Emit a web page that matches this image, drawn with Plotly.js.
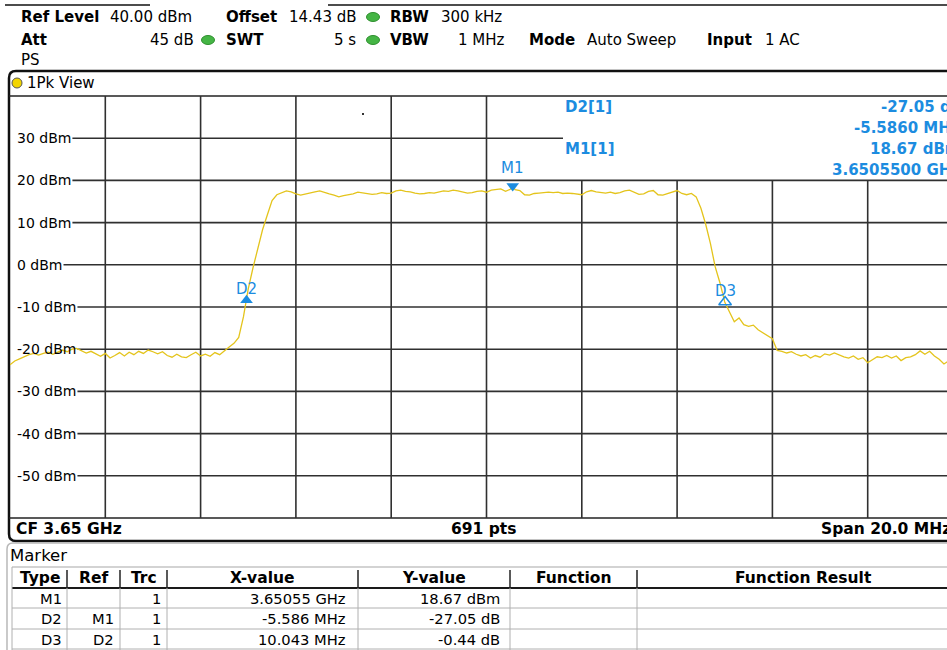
<!DOCTYPE html>
<html><head><meta charset="utf-8">
<script src="https://cdn.plot.ly/plotly-3.0.1.min.js"></script>
<style>html,body{margin:0;padding:0;overflow:hidden;background:#fff;width:947px;height:650px}#chart{width:970px;height:650px}</style>
</head><body><div id="chart"></div><script>
// ---- data ----
const freqMHz = [3640.0,3640.1,3640.2,3640.3,3640.4,3640.5,3640.6,3640.7,3640.8,3640.9,
3641.0,3641.1,3641.2,3641.3,3641.4,3641.5,3641.6,3641.7,3641.8,3641.9,
3642.0,3642.1,3642.2,3642.3,3642.4,3642.5,3642.6,3642.7,3642.8,3642.9,
3643.0,3643.1,3643.2,3643.3,3643.4,3643.5,3643.6,3643.7,3643.8,3643.9,
3644.0,3644.1,3644.2,3644.3,3644.4,3644.5,3644.6,3644.7,3644.8,3644.9,
3645.0,3645.1,3645.2,3645.3,3645.4,3645.5,3645.6,3645.7,3645.8,3645.9,
3646.0,3646.1,3646.2,3646.3,3646.4,3646.5,3646.6,3646.7,3646.8,3646.9,
3647.0,3647.1,3647.2,3647.3,3647.4,3647.5,3647.6,3647.7,3647.8,3647.9,
3648.0,3648.1,3648.2,3648.3,3648.4,3648.5,3648.6,3648.7,3648.8,3648.9,
3649.0,3649.1,3649.2,3649.3,3649.4,3649.5,3649.6,3649.7,3649.8,3649.9,
3650.0,3650.1,3650.2,3650.3,3650.4,3650.5,3650.55,3650.6,3650.7,3650.8,3650.9,
3651.0,3651.1,3651.2,3651.3,3651.4,3651.5,3651.6,3651.7,3651.8,3651.9,
3652.0,3652.1,3652.2,3652.3,3652.4,3652.5,3652.6,3652.7,3652.8,3652.9,
3653.0,3653.1,3653.2,3653.3,3653.4,3653.5,3653.6,3653.7,3653.8,3653.9,
3654.0,3654.1,3654.2,3654.3,3654.4,3654.5,3654.6,3654.7,3654.8,3654.9,
3655.0,3655.1,3655.2,3655.3,3655.4,3655.5,3655.6,3655.7,3655.8,3655.9,
3656.0,3656.1,3656.2,3656.3,3656.4,3656.5,3656.6,3656.7,3656.8,3656.9,
3657.0,3657.1,3657.2,3657.3,3657.4,3657.5,3657.6,3657.7,3657.8,3657.9,
3658.0,3658.1,3658.2,3658.3,3658.4,3658.5,3658.6,3658.7,3658.8,3658.9,
3659.0,3659.1,3659.2,3659.3,3659.4,3659.5,3659.6,3659.7,3659.8,3659.9,3660.0];
const levelDbm = [-23.7,-22.8,-22.3,-21.8,-21.3,-21.0,-21.4,-21.0,-20.7,-21.2,
-20.6,-20.2,-20.6,-20.0,-19.8,-20.3,-20.9,-20.5,-21.2,-21.7,
-21.0,-22.1,-21.5,-20.8,-21.6,-20.7,-21.3,-20.5,-21.0,-20.2,
-20.6,-21.1,-20.6,-21.5,-21.9,-21.2,-21.8,-22.0,-21.3,-20.7,
-21.6,-21.2,-21.7,-20.8,-21.3,-20.5,-19.5,-18.6,-17.2,-12.3,
-5.7,-0.7,4.0,8.3,11.8,15.2,16.6,17.1,17.5,17.3,
16.8,16.5,16.8,17.0,17.3,17.5,17.1,16.8,16.5,16.1,
16.4,16.6,16.8,17.2,17.0,16.9,16.7,16.8,17.1,16.9,
17.0,17.5,17.7,17.4,17.3,17.0,16.8,16.9,17.1,17.0,
17.3,17.5,17.4,17.7,17.5,17.2,17.0,17.1,17.4,17.5,
17.2,17.7,17.9,18.0,17.4,17.9,18.67,17.8,17.6,16.6,16.5,
16.9,17.0,17.1,17.2,17.1,17.2,16.9,17.0,16.9,16.8,
16.6,17.3,17.6,17.3,17.2,17.0,17.2,16.9,17.1,17.5,
17.7,17.2,16.7,16.8,17.4,17.6,16.6,16.5,16.9,17.2,
17.6,16.9,16.6,16.9,16.1,13.4,9.6,5.0,-0.5,-4.3,
-8.8,-11.2,-13.5,-12.6,-14.2,-14.6,-14.3,-15.4,-16.1,-16.6,
-17.5,-20.3,-20.5,-20.9,-20.6,-21.2,-21.6,-21.3,-22.1,-21.5,
-21.9,-21.1,-21.4,-20.9,-21.4,-21.8,-22.1,-21.6,-22.4,-22.0,
-23.2,-22.4,-21.8,-22.0,-21.5,-22.1,-21.6,-22.7,-22.0,-21.8,
-21.3,-20.4,-21.2,-20.5,-21.6,-22.4,-23.5,-22.8,-22.3,-22.6,-22.1];
const markerNames = ['M1','D2','D3'];
const markerFreqMHz = [3650.55, 3644.964, 3655.007];
const markerLevelDbm = [18.67, -8.38, -8.82];
const markerSymbols = ['triangle-down','triangle-up','triangle-up-open'];
const yTickValues = [30,20,10,0,-10,-20,-30,-40,-50];
const yTickLabels = ['30 dBm','20 dBm','10 dBm','0 dBm','-10 dBm','-20 dBm','-30 dBm','-40 dBm','-50 dBm'];
const xGridMHz = [3642,3644,3646,3648,3650,3652,3654,3656,3658];
const tableHeader = ['Type','Ref','Trc','X-value','Y-value','Function','Function Result'];
const tableRows = [
  ['M1','','1','3.65055 GHz','18.67 dBm','',''],
  ['D2','M1','1','-5.586 MHz','-27.05 dB','',''],
  ['D3','D2','1','10.043 MHz','-0.44 dB','','']
];

// ---- layout helpers (pixel -> paper) ----
const W = 970, H = 650;
const X = p => p / W, Y = p => 1 - p / H;
const F = 'DejaVu Sans, Verdana, sans-serif';
const BLUE = '#1c8ce0';
const ann = [];
function T(text, x, y, o) {
  o = o || {};
  ann.push({text: text, x: X(x), y: Y(y), xref: 'paper', yref: 'paper', showarrow: false, borderpad: 0, borderwidth: 0,
    xanchor: o.a || 'left', yanchor: 'middle', font: {family: F, size: o.s || 15, color: o.c || '#000'}});
}
const shapes = [];
function L(x0, y0, x1, y1, c, w) {
  shapes.push({type: 'line', xref: 'paper', yref: 'paper', x0: X(x0), y0: Y(y0), x1: X(x1), y1: Y(y1),
    line: {color: c, width: w}, layer: 'below'});
}
function P(cmds, c, w) {
  const s = cmds.map(cm => {
    let out = cm[0];
    for (let i = 1; i < cm.length; i += 2) out += (i > 1 ? ' ' : '') + X(cm[i]).toFixed(6) + ',' + Y(cm[i + 1]).toFixed(6);
    return out;
  }).join(' ');
  shapes.push({type: 'path', xref: 'paper', yref: 'paper', path: s, line: {color: c, width: w}, fillcolor: 'rgba(0,0,0,0)', layer: 'below'});
}
function DOT(cx, cy, rx, ry, fill, line) {
  shapes.push({type: 'circle', xref: 'paper', yref: 'paper', x0: X(cx - rx), x1: X(cx + rx), y0: Y(cy + ry), y1: Y(cy - ry),
    fillcolor: fill, line: {color: line, width: 1}, layer: 'above'});
}
// measure text width with an SVG text element (same engine as Plotly)
const NS = 'http://www.w3.org/2000/svg';
const msvg = document.createElementNS(NS, 'svg');
msvg.setAttribute('style', 'position:absolute;left:-2000px;top:0');
document.body.appendChild(msvg);
function textWidth(s, size) {
  const t = document.createElementNS(NS, 'text');
  t.setAttribute('style', 'font-family:' + F + ';font-size:' + size + 'px');
  t.textContent = s;
  msvg.appendChild(t);
  const w = t.getComputedTextLength();
  msvg.removeChild(t);
  return w;
}

// header
L(5, 5, 150, 5, '#111', 1.5);
L(328, 5, 970, 5, '#111', 1.5);
T('<b>Ref Level</b>', 21, 17); T('40.00 dBm', 110, 17);
T('<b>Offset</b>', 226, 17); T('14.43 dB', 289, 17);
DOT(373, 17, 6.5, 4.5, '#45b545', '#2f8f2f');
T('<b>RBW</b>', 390, 17); T('300 kHz', 441, 17);
T('<b>Att</b>', 21, 40); T('45 dB', 194, 40, {a: 'right'});
DOT(208, 40, 6.5, 4.5, '#45b545', '#2f8f2f');
T('<b>SWT</b>', 226, 40); T('5 s', 356, 40, {a: 'right'});
DOT(373, 40, 6.5, 4.5, '#45b545', '#2f8f2f');
T('<b>VBW</b>', 390, 40); T('1 MHz', 505, 40, {a: 'right'});
T('<b>Mode</b>', 529, 40); T('Auto Sweep', 587, 40);
T('<b>Input</b>', 707, 40); T('1 AC', 765, 40);
T('PS', 21, 60);

// diagram frame
P([['M', 970, 71], ['L', 16, 71], ['Q', 9, 71, 9, 78], ['L', 9, 534], ['Q', 9, 541, 16, 541], ['L', 970, 541]], '#111', 2.5);
L(9, 96, 970, 96, '#222', 1.6);
L(9, 518, 970, 518, '#222', 1.6);
DOT(17, 83, 5, 5, '#f2d500', '#555');
T('1Pk View', 27, 83);
T('<b>CF 3.65 GHz</b>', 16, 529, {s: 15.5});
T('<b>691 pts</b>', 483, 529, {a: 'center', s: 15.5});
T('<b>Span 20.0 MHz</b>', 951, 529, {a: 'right', s: 15.5});
shapes.push({type: 'rect', xref: 'paper', yref: 'paper', x0: X(362), x1: X(364), y0: Y(115), y1: Y(113), fillcolor: '#333', line: {width: 0}, layer: 'below'});

// marker readout (top right)
T('<b>D2[1]</b>', 565, 107, {c: BLUE});
T('<b>M1[1]</b>', 565, 149, {c: BLUE});
T('<b>-27.05 dB</b>', 962, 107, {c: BLUE, a: 'right'});
T('<b>-5.5860 MHz</b>', 960, 128, {c: BLUE, a: 'right'});
T('<b>18.67 dBm</b>', 960, 149, {c: BLUE, a: 'right'});
T('<b>3.6505500 GHz</b>', 960, 170, {c: BLUE, a: 'right'});

// grid: vertical lines
const GRID = '#303030';
xGridMHz.forEach(f => {
  shapes.push({type: 'line', xref: 'x', yref: 'y', x0: f, x1: f, y0: -60, y1: f > 3651 ? 20 : 40,
    line: {color: GRID, width: 1.6}, layer: 'below'});
});
// grid: horizontal lines starting after the label
yTickValues.forEach((v, i) => {
  const w = textWidth(yTickLabels[i], 14);
  shapes.push({type: 'line', xref: 'paper', yref: 'y', x0: X(17 + w + 1), x1: X(v === 30 ? 563 : 970), y0: v, y1: v,
    line: {color: GRID, width: 1.6}, layer: 'below'});
  ann.push({text: yTickLabels[i], x: X(17), y: v, xref: 'paper', yref: 'y', showarrow: false, borderpad: 0, borderwidth: 0,
    xanchor: 'left', yanchor: 'middle', font: {family: F, size: 14, color: '#000'}});
});

// marker labels
markerNames.forEach((n, i) => {
  ann.push({text: n, x: markerFreqMHz[i], y: markerLevelDbm[i], xref: 'x', yref: 'y', showarrow: false,
    borderpad: 0, borderwidth: 0, xanchor: 'center', yanchor: 'middle', yshift: i === 0 ? 18 : 11,
    font: {family: F, size: 15, color: BLUE}});
});

// marker table
P([['M', 970, 543], ['L', 13, 543], ['Q', 7, 543, 7, 549], ['L', 7, 660]], '#b8b8b8', 1.5);
T('Marker', 10, 555, {s: 16.5});
const colEdges = [12, 67, 120, 167, 358, 510, 637, 970];
L(12, 567, 970, 567, '#c4c4c4', 1.5);
L(12, 588, 970, 588, '#1a1a1a', 2);
[608, 629, 649].forEach(y => L(12, y, 970, y, '#b0b0b0', 1));
L(12, 567, 12, 660, '#b0b0b0', 1);
colEdges.slice(1, 7).forEach(x => { L(x, 570, x, 588, '#222', 1.5); L(x, 588, x, 660, '#b0b0b0', 1); });
tableHeader.forEach((h, i) => T('<b>' + h + '</b>', (colEdges[i] + colEdges[i + 1]) / 2, 578, {a: 'center', s: 15.5}));
const cellPad = [5, 6, 6, 12, 10, 10, 10];
tableRows.forEach((r, j) => {
  r.forEach((c, i) => { if (c) T(c, colEdges[i + 1] - cellPad[i], 598 + j * 20.5, {a: 'right', s: 14.7}); });
});

const traces = [
  {x: freqMHz, y: levelDbm, type: 'scatter', mode: 'lines', line: {color: '#e4c41c', width: 1.3}, hoverinfo: 'skip'},
  {x: markerFreqMHz, y: markerLevelDbm, type: 'scatter', mode: 'markers', hoverinfo: 'skip',
   marker: {symbol: markerSymbols, size: 11, color: BLUE, line: {color: BLUE, width: [0, 0, 1.5]}}}
];
const layout = {
  width: W, height: H, margin: {l: 0, r: 0, t: 0, b: 0, pad: 0},
  paper_bgcolor: '#fff', plot_bgcolor: 'rgba(0,0,0,0)', showlegend: false,
  xaxis: {domain: [X(10), X(963)], range: [3640, 3660], visible: false, fixedrange: true},
  yaxis: {domain: [Y(518), Y(96)], range: [-60, 40], visible: false, fixedrange: true},
  shapes: shapes, annotations: ann
};
Plotly.newPlot('chart', traces, layout, {staticPlot: true, displayModeBar: false});
</script></body></html>
